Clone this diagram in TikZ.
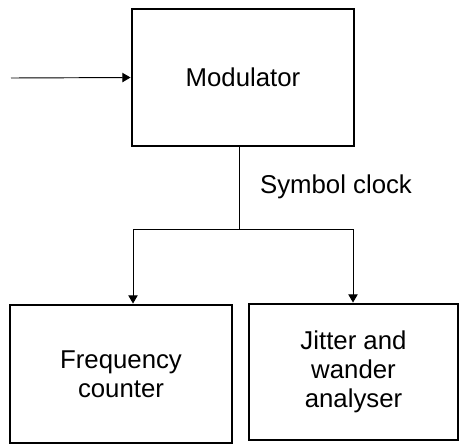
\documentclass[tikz,border=0pt]{standalone}
\usepackage{fontspec}
\setmainfont{Liberation Sans}
\usetikzlibrary{arrows.meta}

\begin{document}
\begin{tikzpicture}[x=0.03cm,y=-0.03cm,
        every node/.style={font=\fontsize{22}{25}\selectfont},
        block/.style={draw=black,line width=2.5pt,align=center,inner sep=0pt},
        wire/.style={draw=black,line width=0.8pt},
        arr/.style={wire,-{Triangle[length=7pt,width=8pt]}}]
    \useasboundingbox (0,0) rectangle (461,444);
    \node[block,minimum width=222*0.03cm,minimum height=137*0.03cm] (mod) at (243,77.5) {Modulator};
    \node[block,minimum width=222*0.03cm,minimum height=138*0.03cm] (freq) at (121,374) {Frequency\\counter};
    \node[block,minimum width=209*0.03cm,minimum height=136*0.03cm] (jit) at (353.5,372) {Jitter and\\wander\\analyser};
    \node (clk) at (336,187) {Symbol clock};
    \coordinate (in) at (11,78);
    \coordinate (split) at (239,229);
    \coordinate (fl) at (133,229);
    \coordinate (fr) at (353,229);
    % input into the modulator
    \path[arr] (in) -- (mod.west);
    % clock branch
    \path[wire] (split |- mod.south) -- (split);
    \path[wire] (fl) -- (fr);
    \path[arr] (fl) -- (fl |- freq.north);
    \path[arr] (fr) -- (fr |- jit.north);
\end{tikzpicture}
\end{document}
